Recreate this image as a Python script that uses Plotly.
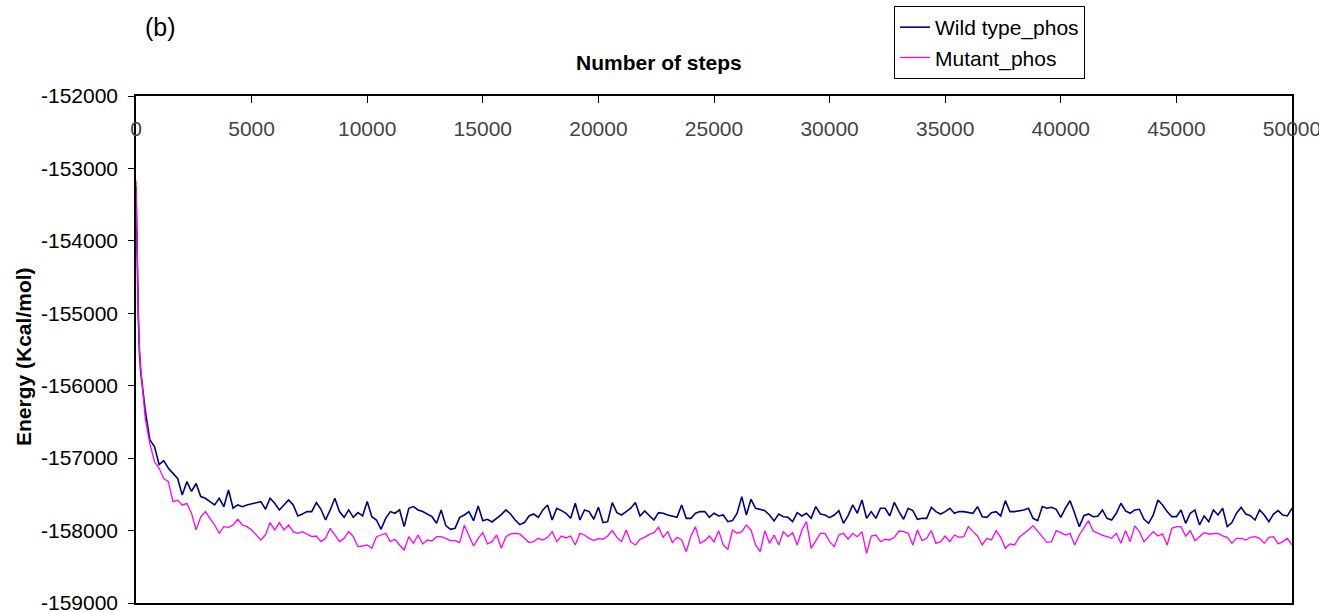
import plotly.graph_objects as go

# ---- data -------------------------------------------------------------
steps = [0, 50, 100, 150] + list(range(200, 50001, 200))

wild_type_phos = [
    -153250, -154350, -155050, -155550, -155800, -156340, -156750, -156840, -157090, -157035,
    -157140, -157210, -157280, -157510, -157325, -157460, -157350, -157530,
    -157554, -157600, -157646, -157554, -157670, -157440, -157690, -157646, -157670, -157646,
    -157630, -157614, -157600, -157706, -157554, -157623, -157715, -157646, -157577, -157646,
    -157798, -157771, -157738, -157738, -157614, -157706, -157854, -157715, -157554, -157738,
    -157817, -157715, -157817, -157752, -157798, -157600, -157808, -157854, -157982, -157831,
    -157738, -157761, -157715, -157946, -157692, -157669, -157715,
    -157738, -157771, -157808, -157900, -157716, -157932, -157982, -157969, -157817, -157785,
    -157738, -157863, -157660, -157863, -157844, -157881, -157831, -157780, -157715, -157771,
    -157854, -157918, -157890, -157798, -157771, -157817, -157715, -157646, -157854, -157692,
    -157725, -157761, -157831, -157623, -157854, -157715, -157738, -157844, -157679, -157890,
    -157877, -157614, -157752, -157785, -157738,
    -157692, -157614, -157798, -157729, -157785, -157854, -157752, -157761, -157785, -157798,
    -157817, -157646, -157831, -157831, -157761, -157738, -157738, -157817, -157761, -157798,
    -157785, -157877, -157863, -157761, -157531, -157785, -157568, -157692, -157706, -157725,
    -157785, -157867, -157771, -157808, -157817, -157877, -157752, -157798, -157761, -157831,
    -157669, -157771, -157785, -157821, -157785, -157725,
    -157900, -157794, -157646, -157761, -157577, -157831, -157738, -157831, -157692, -157692,
    -157798, -157610, -157738, -157844, -157692, -157725, -157844, -157831, -157831, -157679,
    -157738, -157771, -157738, -157692, -157761, -157738, -157738, -157752, -157761, -157669,
    -157808, -157817, -157752, -157738, -157798, -157587, -157738, -157738, -157729, -157715,
    -157692, -157831, -157863, -157669, -157692, -157679, -157706,
    -157817, -157692, -157587, -157761, -157946, -157794, -157771, -157808, -157803, -157715,
    -157831, -157854, -157761, -157623, -157729, -157761, -157715, -157706, -157844, -157900,
    -157785, -157577, -157646, -157738, -157808, -157808, -157715, -157900, -157761, -157715,
    -157923, -157798, -157877, -157715, -157785, -157692, -157946, -157890, -157761, -157679,
    -157771, -157794, -157854, -157715, -157785, -157877, -157771, -157725, -157785, -157798,
    -157692,
]

mutant_phos = [
    -153170, -154300, -155000, -155500, -155740, -156450, -156800, -157050, -157140, -157280,
    -157325, -157600, -157580, -157650, -157625, -157760, -157990, -157810,
    -157738, -157830, -157923, -158038, -157946, -157955, -157923, -157844, -157923, -157946,
    -157992, -158060, -158130, -158060, -157890, -157992, -157890, -157992, -157923, -158015,
    -158038, -158015, -158047, -158084, -158075, -158153, -158107, -157969, -158061, -158153,
    -158107, -158015, -158084, -158222, -158213, -158199, -158245, -158084, -158061, -158038,
    -158153, -158120, -158199, -158268, -158084, -158176, -158061,
    -158185, -158130, -158143, -158084, -158084, -158107, -158139, -158139, -158166, -157927,
    -158075, -158213, -158107, -158029, -158185, -158153, -158061, -158245, -158084, -158047,
    -158038, -158047, -158107, -158166, -158153, -158107, -158130, -158093, -158015, -158153,
    -158075, -158102, -158075, -158199, -158038, -158061, -158107, -158139, -158107, -158120,
    -158075, -158001, -158093, -158153, -157992,
    -158157, -158199, -158120, -158093, -158052, -158029, -157955, -158093, -158015, -158166,
    -158093, -158130, -158291, -158075, -157946, -158176, -158139, -158075, -158153, -158001,
    -158199, -158259, -157992, -158038, -158015, -157923, -157992, -158199, -158291, -158001,
    -158176, -158061, -158199, -158015, -158084, -158029, -158199, -157992, -157877, -158245,
    -158139, -158038, -158038, -158153, -158222, -158061,
    -158038, -158120, -158038, -158084, -158015, -158314, -158075, -158061, -158153, -158120,
    -158130, -158093, -158006, -158015, -158038, -158199, -157992, -158139, -158107, -158001,
    -158176, -158153, -158075, -158153, -158061, -158093, -158084, -157946, -158015, -158075,
    -158199, -158107, -158130, -158001, -158093, -158245, -158185, -158199, -158093, -158047,
    -157992, -157932, -158006, -158075, -158162, -158153, -158001,
    -158029, -158061, -158038, -158199, -158061, -157969, -157863, -158006, -158038, -158065,
    -158084, -158107, -158038, -158176, -158001, -158153, -157936, -158015, -158153, -158084,
    -158015, -158075, -158047, -158199, -157969, -157946, -157946, -158075, -158001, -158139,
    -158084, -158029, -158047, -158038, -158038, -158075, -158093, -158176, -158107, -158107,
    -158130, -158093, -158084, -158107, -158176, -158093, -158084, -158185, -158153, -158107,
    -158199,
]

series_names = ["Wild type_phos", "Mutant_phos"]
y_tick_values = [-152000, -153000, -154000, -155000, -156000, -157000, -158000, -159000]
y_tick_labels = ["-152000", "-153000", "-154000", "-155000", "-156000", "-157000", "-158000", "-159000"]
x_title = "Number of steps"
y_title = "Energy (Kcal/mol)"
panel_label = "(b)"

assert len(steps) == len(wild_type_phos) == len(mutant_phos)

# ---- figure -----------------------------------------------------------
FONT = "Arial, 'Liberation Sans', sans-serif"
FS = 21

fig = go.Figure()
fig.add_trace(go.Scatter(x=steps, y=wild_type_phos, mode="lines", name=series_names[0],
                         line=dict(color="#000080", width=1.6), legendgroup="a"))
fig.add_trace(go.Scatter(x=steps, y=mutant_phos, mode="lines", name=series_names[1],
                         line=dict(color="#FF00FF", width=1.3), legendgroup="b"))

W, H = 1319, 612
L, R, T, B = 136, 1292, 96, 603

def px(xp):
    return (xp - L) / (R - L)

def py(yp):
    return (B - yp) / (B - T)

fig.update_layout(
    template="none",
    width=W, height=H,
    margin=dict(l=L, r=W - R, t=T, b=H - B, pad=0, autoexpand=False),
    paper_bgcolor="white", plot_bgcolor="white",
    font=dict(family=FONT, size=FS, color="black"),
    showlegend=True,
    legend=dict(x=px(894), xanchor="left", y=py(6), yanchor="top",
                bordercolor="black", borderwidth=1, bgcolor="white",
                font=dict(size=FS), tracegroupgap=4, itemwidth=30,
                traceorder="normal"),
    xaxis=dict(range=[0, 50000], side="top", dtick=5000, tick0=0, tickformat="d",
               ticks="inside", ticklen=7, tickcolor="black", tickwidth=1,
               ticklabelposition="inside", ticklabeloverflow="allow", ticklabelstandoff=20,
               showline=True, linecolor="black", linewidth=1.5,
               mirror=True, showgrid=False, zeroline=False, automargin=False,
               tickfont=dict(size=FS)),
    yaxis=dict(range=[-159000, -152000], tickvals=y_tick_values, ticktext=y_tick_labels,
               ticks="outside", ticklen=6, tickcolor="black", tickwidth=1,
               ticklabeloverflow="allow", ticklabelstandoff=6,
               showline=True, linecolor="black", linewidth=1.5, mirror=True,
               showgrid=False, zeroline=False, automargin=False, tickfont=dict(size=FS)),
    annotations=[
        dict(text="<b>" + x_title + "</b>", x=px(659), y=py(62), xref="paper", yref="paper",
             showarrow=False, font=dict(size=FS), xanchor="center", yanchor="middle"),
        dict(text="<b>" + y_title + "</b>", x=px(23), y=py(357), xref="paper", yref="paper",
             showarrow=False, font=dict(size=FS), textangle=-90, xanchor="center", yanchor="middle"),
        dict(text=panel_label, x=px(160), y=py(27), xref="paper", yref="paper",
             showarrow=False, font=dict(size=25), xanchor="center", yanchor="middle"),
    ],
)

fig.write_html("out.html")
